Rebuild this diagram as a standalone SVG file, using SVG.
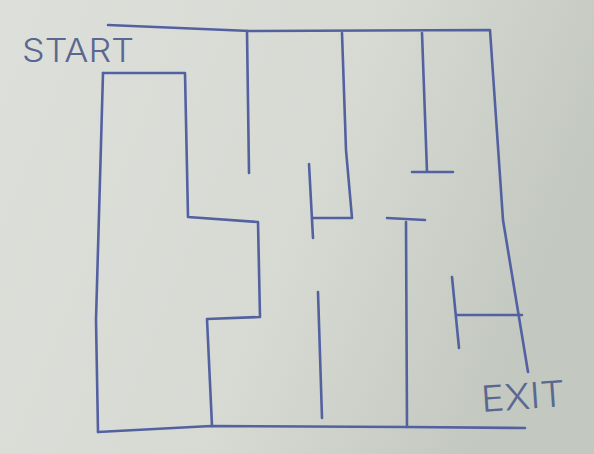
<svg xmlns="http://www.w3.org/2000/svg" width="594" height="454" viewBox="0 0 594 454">
<defs>
<linearGradient id="paper" x1="0" y1="0" x2="1" y2="0.3">
<stop offset="0" stop-color="#dde0da"/>
<stop offset="0.6" stop-color="#d6dad3"/>
<stop offset="1" stop-color="#c3c8c0"/>
</linearGradient>
<style>
.w{fill:none;stroke:#5361a0;stroke-width:2.6;stroke-linecap:round;stroke-linejoin:round}
.t{font-family:Inter,"Liberation Sans",Arial,sans-serif;fill:#5a6790;font-weight:300}
</style>
</defs>
<rect width="594" height="454" fill="url(#paper)"/>
<g id="walls">
<path class="w" d="M108,25 L250,31 L490,30 L503,220 L528,372"/>
<path class="w" d="M98,432 L211,426 L407,427 L525,428"/>
<path class="w" d="M103,73 L185,73 L188,217 L258,222 L260,317 L207,319 L212,426"/>
<path class="w" d="M103,73 L96,320 L98,432"/>
<path class="w" d="M247,31 L249,173"/>
<path class="w" d="M342,33 L346,150 L352,218 L313,218"/>
<path class="w" d="M309,164 L313,238"/>
<path class="w" d="M422,33 L427,172 M412,172 L453,172"/>
<path class="w" d="M387,218 L425,220 M406,222 L407,427"/>
<path class="w" d="M318,292 L322,418"/>
<path class="w" d="M452,277 L459,348 M457,315 L522,315"/>
</g>
<text class="t" x="22" y="62" font-size="33" textLength="112" lengthAdjust="spacingAndGlyphs">START</text>
<text class="t" x="482" y="412" font-size="36" textLength="84" lengthAdjust="spacingAndGlyphs" transform="rotate(-4 482 412)">EXIT</text>
</svg>
